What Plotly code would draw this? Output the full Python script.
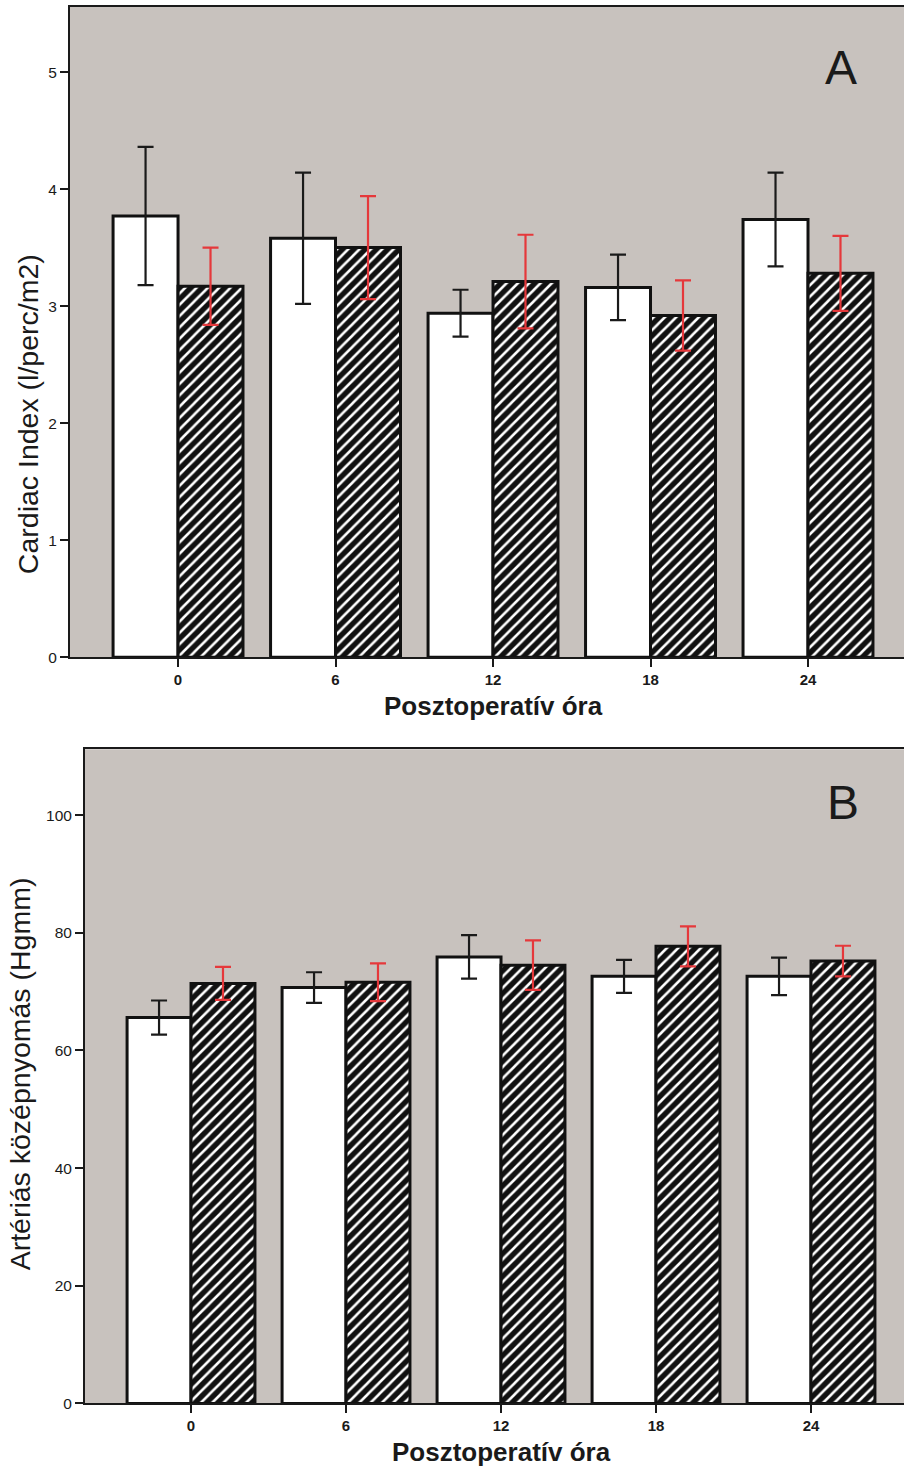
import plotly.graph_objects as go

hours = ["0", "6", "12", "18", "24"]

ci_ctrl = [3.77, 3.58, 2.94, 3.16, 3.74]
ci_ctrl_err = [0.59, 0.56, 0.20, 0.28, 0.40]
ci_trt = [3.17, 3.50, 3.21, 2.92, 3.28]
ci_trt_err = [0.33, 0.44, 0.40, 0.30, 0.32]

map_ctrl = [65.6, 70.7, 75.9, 72.6, 72.6]
map_ctrl_err = [2.9, 2.6, 3.7, 2.8, 3.2]
map_trt = [71.4, 71.6, 74.5, 77.7, 75.2]
map_trt_err = [2.8, 3.2, 4.2, 3.4, 2.6]

W, H = 904, 1470
HR = 1461.5  # effective rendered paper height used for pixel->paper mapping
FONT = "Liberation Sans, Arial, sans-serif"
BG = "#c8c2be"
RED = "#e5383b"
xs = list(range(len(hours)))

fig = go.Figure()

def add_panel(ctrl, ctrl_err, trt, trt_err, xa, ya):
    fig.add_trace(go.Bar(
        x=xs, y=ctrl, xaxis=xa, yaxis=ya, offsetgroup="a",
        marker=dict(color="white", line=dict(color="#111", width=3)),
        error_y=dict(type="data", array=ctrl_err, color="#1a1a1a", thickness=2.2, width=8),
        showlegend=False))
    fig.add_trace(go.Bar(
        x=xs, y=trt, xaxis=xa, yaxis=ya, offsetgroup="b",
        marker=dict(color="#111", line=dict(color="#111", width=3),
                    pattern=dict(shape="/", fgcolor="white", bgcolor="#111",
                                 size=8, solidity=0.32, fillmode="replace")),
        error_y=dict(type="data", array=trt_err, color=RED, thickness=2.2, width=8),
        showlegend=False))

add_panel(ci_ctrl, ci_ctrl_err, ci_trt, ci_trt_err, "x", "y")
add_panel(map_ctrl, map_ctrl_err, map_trt, map_trt_err, "x2", "y2")

def py(p):
    return 1 - p / HR

axis_common = dict(showgrid=False, zeroline=False, linecolor="#1a1a1a", linewidth=2,
                   ticks="outside", tickcolor="#1a1a1a", tickwidth=1.5, ticklen=8)

fig.update_layout(
    width=W, height=H,
    margin=dict(l=0, r=0, t=0, b=0),
    paper_bgcolor="white",
    plot_bgcolor=BG,
    barmode="group", bargap=0.175, bargroupgap=0,
    font=dict(family=FONT, color="#1a1a1a"),
    xaxis=dict(domain=[70 / W, 1], anchor="y", range=[-0.686, (904 - 178) / 157.5],
               tickvals=xs, ticktext=hours, mirror=True,
               tickfont=dict(size=15, family=FONT, weight="bold"), **axis_common),
    yaxis=dict(domain=[py(657), py(7)], anchor="x", range=[0, 5.556], dtick=1,
               tickfont=dict(size=15.5, family=FONT), **axis_common),
    xaxis2=dict(domain=[85 / W, 1], anchor="y2", range=[-0.684, (904 - 191) / 155],
                tickvals=xs, ticktext=hours, mirror=True,
                tickfont=dict(size=15, family=FONT, weight="bold"), **axis_common),
    yaxis2=dict(domain=[py(1403), py(749)], anchor="x2", range=[0, 111.2], dtick=20,
                tickfont=dict(size=15.5, family=FONT), **axis_common),
)

ann = [
    dict(text="Cardiac Index (l/perc/m2)", x=28 / W, y=py(414), textangle=-90, font=dict(size=28.5)),
    dict(text="Artériás középnyomás (Hgmm)", x=20 / W, y=py(1074), textangle=-90, font=dict(size=28.5)),
    dict(text="<b>Posztoperatív óra</b>", x=493.5 / W, y=py(706), font=dict(size=26)),
    dict(text="<b>Posztoperatív óra</b>", x=501 / W, y=py(1452), font=dict(size=26)),
    dict(text="A", x=841 / W, y=py(67), font=dict(size=48)),
    dict(text="B", x=843 / W, y=py(802), font=dict(size=48)),
]
for a in ann:
    a.update(xref="paper", yref="paper", showarrow=False, xanchor="center", yanchor="middle")
    a["font"].update(family=FONT, color="#1a1a1a")
    fig.add_annotation(**a)

fig.write_html("out.html")
